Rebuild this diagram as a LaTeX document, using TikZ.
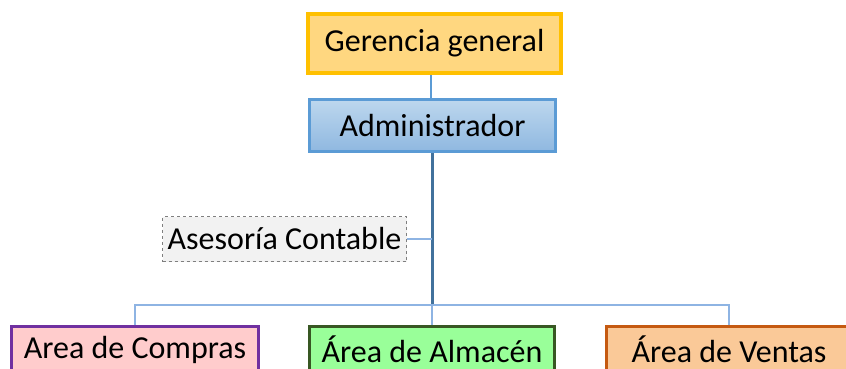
\documentclass[tikz,border=0pt]{standalone}
\usepackage{fontspec}
\setmainfont{Carlito}
\usetikzlibrary{calc}
\definecolor{gold}{HTML}{FFC000}
\definecolor{gerfill}{HTML}{FFD780}
\definecolor{admborder}{HTML}{5B9BD5}
\definecolor{admtop}{HTML}{BDD7EE}
\definecolor{admbot}{HTML}{8FB8E0}
\definecolor{linedark}{HTML}{41719C}
\definecolor{linelight}{HTML}{8EB4E3}
\definecolor{asesfill}{HTML}{F2F2F2}
\definecolor{asesborder}{HTML}{7F7F7F}
\definecolor{compfill}{HTML}{FFCCCC}
\definecolor{compborder}{HTML}{7030A0}
\definecolor{almfill}{HTML}{99FF99}
\definecolor{almborder}{HTML}{385723}
\definecolor{ventfill}{HTML}{FAC998}
\definecolor{ventborder}{HTML}{C55A11}
\tikzset{
  box/.style={rectangle, inner sep=0pt, font=\fontsize{32}{38}\selectfont, text=black},
  thinline/.style={draw=linelight, line width=1.5pt},
  lowbox/.style={box, line width=3pt, minimum height=46pt},
}
\begin{document}
\begin{tikzpicture}[x=1pt,y=-1pt]
\useasboundingbox (0,0) rectangle (846,368);
\clip (0,0) rectangle (846,368);
\node[box, draw=gold, line width=4pt, fill=gerfill, minimum width=253pt, minimum height=59pt] (ger) at (434.5,43.5) {Gerencia general};
\node[box, draw=admborder, line width=3pt, top color=admtop, bottom color=admbot, minimum width=246pt, minimum height=52pt] (adm) at (432.5,125.5) {Administrador};
\node[box, draw=asesborder, dashed, line width=1pt, fill=asesfill, minimum width=244pt, minimum height=45pt] (ases) at (284.5,239) {Asesoría Contable};
\node[lowbox, draw=compborder, fill=compfill, minimum width=247pt] (comp) at (135,349.5) {Area de Compras};
\node[lowbox, draw=almborder, fill=almfill, minimum width=245pt] (alm) at (432,349.5) {Área de Almacén};
\node[lowbox, draw=ventborder, fill=ventfill, minimum width=245pt] (vent) at (729,349.5) {Área de Ventas};
\coordinate (bus) at (432,305);
\draw[admborder, line width=2pt] (adm.north -| 431,0) -- (431,0 |- ger.south);
\draw[linedark, line width=3pt] (adm.south -| bus) -- (bus);
\draw[thinline] (ases.east) -- (ases.east -| bus);
\draw[thinline] (comp.north) |- (bus) -| (vent.north);
\draw[thinline] (alm.north -| bus) -- (bus);
\end{tikzpicture}
\end{document}
